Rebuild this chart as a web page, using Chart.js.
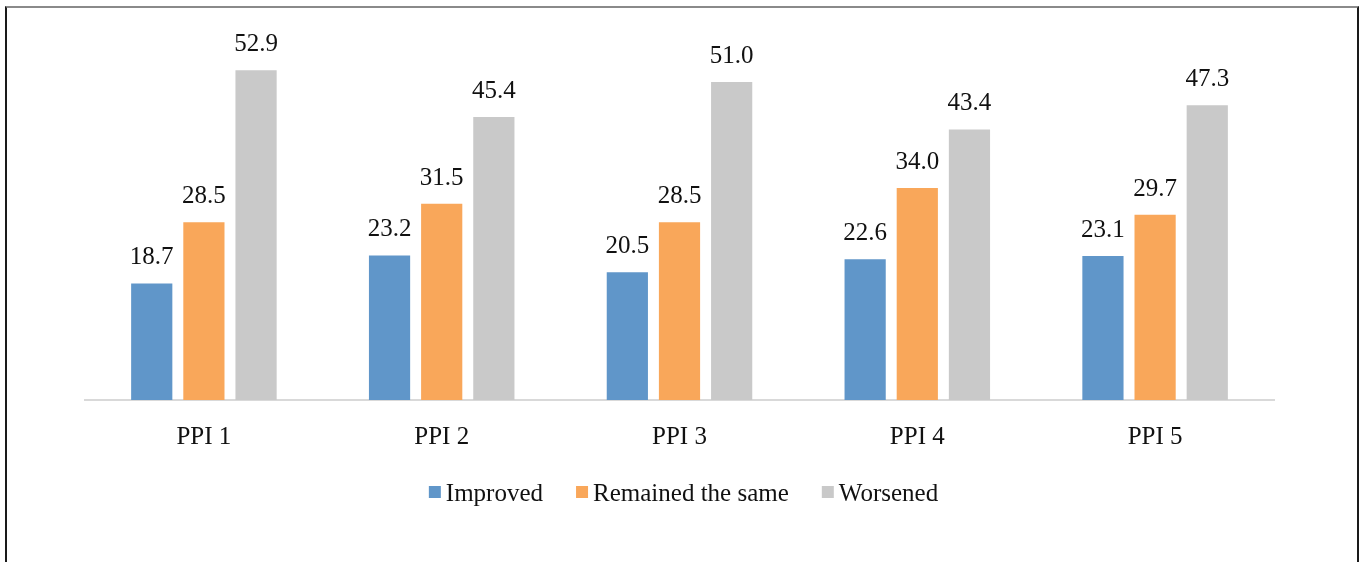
<!DOCTYPE html>
<html>
<head>
<meta charset="utf-8">
<script src="https://cdn.jsdelivr.net/npm/chart.js@4/dist/chart.umd.min.js"></script>
<style>
  html, body { margin: 0; padding: 0; background: #fff; }
  #wrap { position: relative; width: 1363px; height: 562px; overflow: hidden; }
  #frame { position: absolute; left: 5px; top: 6px; width: 1350px; height: 600px;
           border-top: 2px solid #8a8a8a; border-left: 2px solid #1a1a1a; border-right: 2px solid #1a1a1a; }
  canvas { position: absolute; left: 0; top: 0; }
</style>
</head>
<body>
<div id="wrap">
  <div id="frame"></div>
  <canvas id="c" width="1363" height="562"></canvas>
</div>
<script>
const categories = ["PPI 1", "PPI 2", "PPI 3", "PPI 4", "PPI 5"];
const seriesNames = ["Improved", "Remained the same", "Worsened"];
const improved = [18.7, 23.2, 20.5, 22.6, 23.1];
const remained = [28.5, 31.5, 28.5, 34.0, 29.7];
const worsened = [52.9, 45.4, 51.0, 43.4, 47.3];
const colors = ["#6096C9", "#F9A75A", "#C9C9C9"];

const FONT = "'Liberation Serif', 'Times New Roman', serif";
const FS = 25;

const valueLabels = {
  id: "valueLabels",
  afterDatasetsDraw(chart) {
    const ctx = chart.ctx;
    ctx.save();
    ctx.font = FS + "px " + FONT;
    ctx.fillStyle = "#111";
    ctx.textAlign = "center";
    ctx.textBaseline = "alphabetic";
    chart.data.datasets.forEach((ds, i) => {
      const meta = chart.getDatasetMeta(i);
      meta.data.forEach((el, j) => {
        ctx.fillText(ds.data[j].toFixed(1), el.x, el.y - 19);
      });
    });
    ctx.restore();
  }
};

// Legend drawn from the chart's datasets (compact spacing as in the reference)
const compactLegend = {
  id: "compactLegend",
  afterDraw(chart) {
    const ctx = chart.ctx;
    ctx.save();
    ctx.font = FS + "px " + FONT;
    const box = 12, gapText = 5, gapItem = 33;
    const items = chart.data.datasets.map(ds => ({ text: ds.label, color: ds.backgroundColor, w: ctx.measureText(ds.label).width }));
    let total = 0;
    items.forEach((it, i) => { total += box + gapText + it.w + (i < items.length - 1 ? gapItem : 0); });
    let x = chart.width / 2 + 2 - total / 2;
    const y = chart.chartArea.bottom + 93;
    ctx.textAlign = "left";
    ctx.textBaseline = "middle";
    items.forEach(it => {
      ctx.fillStyle = it.color;
      ctx.fillRect(x, y - 7, box, box);
      x += box + gapText;
      ctx.fillStyle = "#111";
      ctx.fillText(it.text, x, y + 1);
      x += it.w + gapItem;
    });
    ctx.restore();
  }
};

new Chart(document.getElementById("c"), {
  type: "bar",
  data: {
    labels: categories,
    datasets: [
      { label: seriesNames[0], data: improved, backgroundColor: colors[0] },
      { label: seriesNames[1], data: remained, backgroundColor: colors[1] },
      { label: seriesNames[2], data: worsened, backgroundColor: colors[2] }
    ]
  },
  options: {
    responsive: false,
    animation: false,
    devicePixelRatio: 1,
    layout: { padding: { left: 85, right: 89, top: 26, bottom: 96 } },
    datasets: { bar: { categoryPercentage: 0.658, barPercentage: 0.79 } },
    scales: {
      x: {
        grid: { display: false },
        border: { display: true, color: "#D9D9D9", width: 2 },
        ticks: { color: "#111", font: { family: FONT, size: FS }, padding: 14 }
      },
      y: { display: false, min: 0, max: 60 }
    },
    plugins: {
      legend: { display: false },
      tooltip: { enabled: false }
    }
  },
  plugins: [valueLabels, compactLegend]
});
</script>
</body>
</html>
